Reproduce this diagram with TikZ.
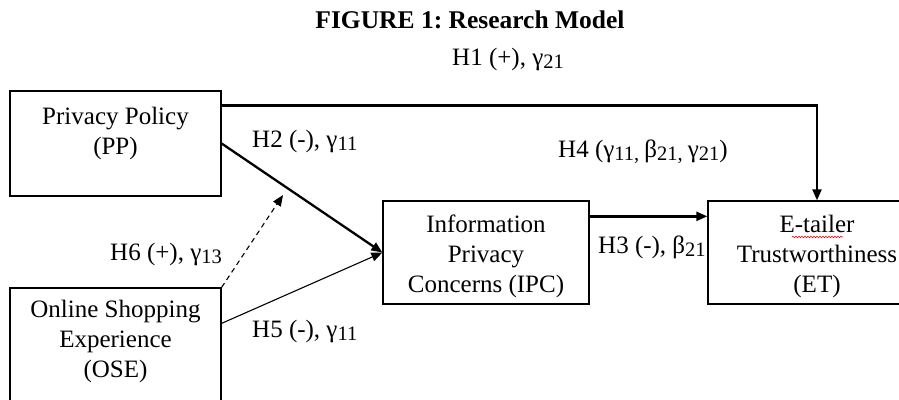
\documentclass[tikz,border=0pt]{standalone}
\usepackage{fontspec}
\setmainfont{Liberation Serif}
\usetikzlibrary{arrows.meta,decorations.pathmorphing,calc}
\frenchspacing

% lowered, slightly smaller index digits after a Greek letter
\newcommand\subidx[1]{\raisebox{-3pt}{\fontsize{20.5}{21}\selectfont #1}}

\begin{document}
\begin{tikzpicture}[x=1pt,y=-1pt,
  every node/.style={font=\fontsize{25}{30}\selectfont},
  box/.style={draw, line width=1.3pt, inner sep=0pt, rectangle},
  boxtext/.style={align=center, inner sep=0pt},
  lbl/.style={anchor=base west, inner sep=0pt},
  tip/.style={-{Triangle[length=11pt,width=9pt]}},
  strong link/.style={tip, line width=2.3pt},
  weak link/.style={tip, line width=1.1pt},
  moderator link/.style={tip, line width=1.1pt, dash pattern=on 5pt off 4pt}]

\useasboundingbox (0,0) rectangle (899,399);
\clip (0,0) rectangle (899,399);
\fill[white] (0,0) rectangle (899,399);

% title
\node[font=\fontsize{25.5}{30}\selectfont\bfseries] (title) at (470,20) {FIGURE 1: Research Model};

% constructs
\node[box, minimum width=211pt, minimum height=105pt] (pp)  at (115.5,143.5) {};
\node[box, minimum width=211pt, minimum height=114pt] (ose) at (115.5,345) {};
\node[box, minimum width=206pt, minimum height=103pt] (ipc) at (486,252.5) {};
\node[box, minimum width=218pt, minimum height=103pt] (et)  at (817,252.5) {};

\node[boxtext] (ppt)  at (115.5,133) {Privacy Policy\\(PP)};
\node[boxtext] (oset) at (115.5,341) {Online Shopping\\Experience\\(OSE)};
\node[boxtext] (ipct) at (486,256.5) {Information\\Privacy\\Concerns (IPC)};
\node[boxtext] (ett)  at (817,256) {E-tailer\\Trustworthiness\\(ET)};

% spell-check squiggle under "tailer"
\draw[red, line width=0.6pt, decorate,
      decoration={snake, amplitude=0.8pt, segment length=3pt}]
  (792,237) -- (843,237);

% paths
\coordinate (h1s) at ($(pp.north east)+(0,15)$);
\draw[strong link] (h1s) -| (et.north);
\draw[strong link] (pp.east) -- (ipc.west);
\coordinate (h5s) at ($(ose.north east)+(0,36)$);
\draw[weak link] (h5s) -- (ipc.west);
\coordinate (h6e) at (283,195);
\draw[moderator link] (ose.north east) -- (h6e);
\coordinate (h3s) at ($(ipc.north east)+(0,16)$);
\draw[strong link] (h3s) -- (h3s -| et.west);

% path labels
\node[lbl] (l1) at (452,65)  {H1 (+), γ\subidx{21}};
\node[lbl] (l2) at (252,147) {H2 (-), γ\subidx{11}};
\node[lbl] (l6) at (110,260) {H6 (+), γ\subidx{13}};
\node[lbl] (l5) at (252,337) {H5 (-), γ\subidx{11}};
\node[lbl] (l4) at (558,157) {H4 (γ\subidx{11, }β\subidx{21, }γ\subidx{21})};
\node[lbl] (l3) at (598,253) {H3 (-), β\subidx{21}};

\end{tikzpicture}
\end{document}
